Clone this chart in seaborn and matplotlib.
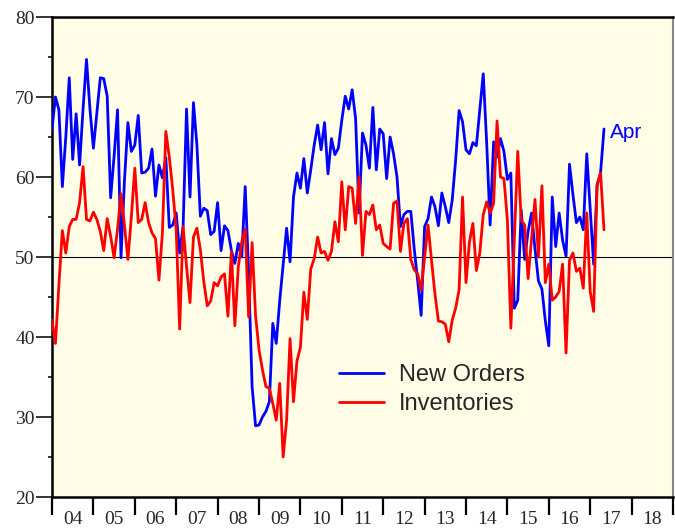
import numpy as np
import pandas as pd
import seaborn as sns
import matplotlib
matplotlib.use("Agg")
from matplotlib import pyplot as plt
from matplotlib.ticker import FixedLocator, MultipleLocator

# monthly readings, Dec 2003 .. Apr 2017
new_orders = [66.0, 70.0, 68.4, 58.8, 65.0, 72.4, 62.2, 67.9, 61.5, 68.5,
              74.7, 68.5, 63.6, 68.0, 72.4, 72.3, 70.1, 57.4, 62.6, 68.4,
              49.9, 59.5, 66.8, 63.2, 64.0, 67.7, 60.5, 60.6, 61.1, 63.5,
              57.6, 61.5, 59.9, 62.4, 53.7, 54.0, 55.5, 50.5, 53.8, 68.5,
              57.5, 69.3, 64.0, 55.1, 56.1, 55.8, 52.8, 53.2, 56.8, 50.8,
              53.9, 53.3, 50.8, 49.2, 51.7, 50.0, 58.8, 48.0, 33.8, 28.9,
              29.0, 30.0, 30.7, 31.9, 41.7, 39.2, 44.5, 49.0, 53.6, 49.4,
              57.5, 60.5, 58.6, 62.3, 58.0, 60.9, 64.0, 66.5, 63.4, 66.8,
              60.4, 64.8, 62.8, 63.6, 67.1, 70.1, 68.5, 70.9, 67.3, 55.5,
              65.5, 64.0, 61.1, 68.7, 60.9, 66.0, 65.4, 59.8, 65.0, 62.9,
              60.0, 53.8, 55.3, 55.7, 55.7, 51.0, 47.0, 42.7, 53.8, 54.8,
              57.5, 56.3, 53.9, 58.0, 56.3, 54.3, 57.1, 62.1, 68.3, 66.9,
              63.4, 62.9, 64.3, 63.9, 68.4, 72.9, 64.2, 54.0, 64.4, 62.5,
              64.8, 63.2, 59.7, 60.5, 43.6, 44.6, 55.9, 49.7, 53.2, 55.5,
              51.0, 47.0, 46.0, 42.0, 38.9, 57.5, 51.3, 55.5, 52.1, 50.1,
              61.6, 57.8, 54.3, 55.0, 53.4, 62.9, 55.9, 49.1, 59.0, 60.5,
              66.0]
inventories = [42.1, 39.2, 46.5, 53.3, 50.5, 53.8, 54.7, 54.7, 56.8, 61.3,
               54.7, 54.5, 55.6, 54.7, 53.2, 50.8, 54.8, 52.6, 49.9, 53.5,
               57.9, 54.0, 49.7, 55.0, 61.1, 54.3, 54.7, 56.8, 54.3, 53.0,
               52.3, 47.1, 53.0, 65.7, 62.5, 58.4, 53.4, 41.0, 53.8, 48.8,
               44.3, 52.5, 53.6, 50.9, 46.9, 43.9, 44.5, 46.8, 46.4, 47.5,
               47.9, 42.6, 50.7, 41.4, 48.8, 51.9, 53.5, 42.5, 51.8, 42.7,
               38.4, 35.9, 33.8, 33.6, 31.7, 29.6, 34.2, 25.0, 29.6, 39.8,
               31.9, 37.0, 38.7, 45.6, 42.2, 48.5, 49.8, 52.5, 50.5, 50.7,
               49.6, 50.7, 54.4, 51.9, 59.4, 53.4, 58.8, 58.6, 54.2, 60.1,
               50.2, 55.7, 55.3, 56.5, 53.4, 54.0, 51.7, 51.3, 51.0, 56.7,
               57.0, 50.7, 54.2, 54.8, 49.7, 48.4, 47.9, 45.9, 50.0, 54.0,
               49.6, 45.4, 42.0, 41.9, 41.6, 39.4, 42.1, 43.6, 45.9, 57.5,
               46.8, 51.9, 54.2, 48.3, 50.5, 55.3, 56.9, 55.5, 56.7, 67.0,
               60.0, 59.8, 54.6, 41.1, 52.0, 63.2, 54.6, 54.0, 47.3, 52.3,
               57.2, 50.0, 58.9, 46.8, 49.1, 44.6, 45.0, 45.7, 49.1, 38.0,
               49.6, 50.5, 48.2, 48.6, 46.1, 55.5, 45.7, 43.2, 59.0, 60.5,
               53.4]
year_labels = ['04', '05', '06', '07', '08', '09', '10', '11', '12',
               '13', '14', '15', '16', '17', '18']

months = pd.date_range('2003-12-01', periods=len(new_orders), freq='MS')
# plot each month at its month-end position
xpos = months.year + months.month / 12.0

df = pd.DataFrame({'x': np.concatenate([xpos, xpos]),
                   'value': new_orders + inventories,
                   'series': ['New Orders'] * len(xpos) + ['Inventories'] * len(xpos)})

sns.set_style('ticks')
plt.rcParams['font.family'] = ['Liberation Serif', 'DejaVu Serif']

fig = plt.figure(figsize=(6.75, 5.29), dpi=100)
ax = fig.add_axes([52 / 675, 1 - 497 / 529, 621 / 675, 480 / 529])
ax.set_facecolor('#fffde6')

ax.axhline(50, color='black', lw=0.8, zorder=1)
sns.lineplot(data=df, x='x', y='value', hue='series',
             palette={'New Orders': '#0000ff', 'Inventories': '#ff0000'},
             lw=2.0, ax=ax, legend=False, zorder=3)

ax.set_xlim(2004, 2019)
ax.set_ylim(20, 80)
ax.set_xlabel('')
ax.set_ylabel('')

# year boundaries as long ticks, labels centred between them
ax.xaxis.set_major_locator(FixedLocator(np.arange(2004, 2020)))
ax.xaxis.set_minor_locator(FixedLocator(np.arange(2004, 2019) + 0.5))
ax.set_xticklabels([''] * 16)
ax.set_xticklabels(year_labels, minor=True)
ax.tick_params(axis='x', which='major', direction='out', length=13, width=1.6, color='black')
ax.tick_params(axis='x', which='minor', length=0, pad=10, labelsize=14)

ax.yaxis.set_major_locator(MultipleLocator(10))
ax.yaxis.set_minor_locator(MultipleLocator(5))
ax.tick_params(axis='y', which='major', direction='out', length=11.5, width=1.1,
               pad=1, labelsize=14, color='black')
ax.tick_params(axis='y', which='minor', direction='out', length=3, width=1.1, color='black')

for side in ['left', 'bottom', 'top']:
    ax.spines[side].set_color('black')
    ax.spines[side].set_linewidth(1.8)
ax.spines['right'].set_color('#888888')
ax.spines['right'].set_linewidth(1.5)

h1, = ax.plot([], [], color='#0000ff', lw=2.0)
h2, = ax.plot([], [], color='#ff0000', lw=2.0)
ax.legend([h1, h2], ['New Orders', 'Inventories'], loc='upper left',
          bbox_to_anchor=(0.462, 0.277), frameon=False, borderpad=0,
          borderaxespad=0, handlelength=1.9, handletextpad=0.65,
          labelspacing=0.3, prop={'family': 'Liberation Sans', 'size': 17})

ax.text(xpos[-1] + 0.15, new_orders[-1] - 0.4, 'Apr', color='#0000ff',
        family='Liberation Sans', fontsize=15, va='center', ha='left')

fig.savefig('out.png', dpi=100)
